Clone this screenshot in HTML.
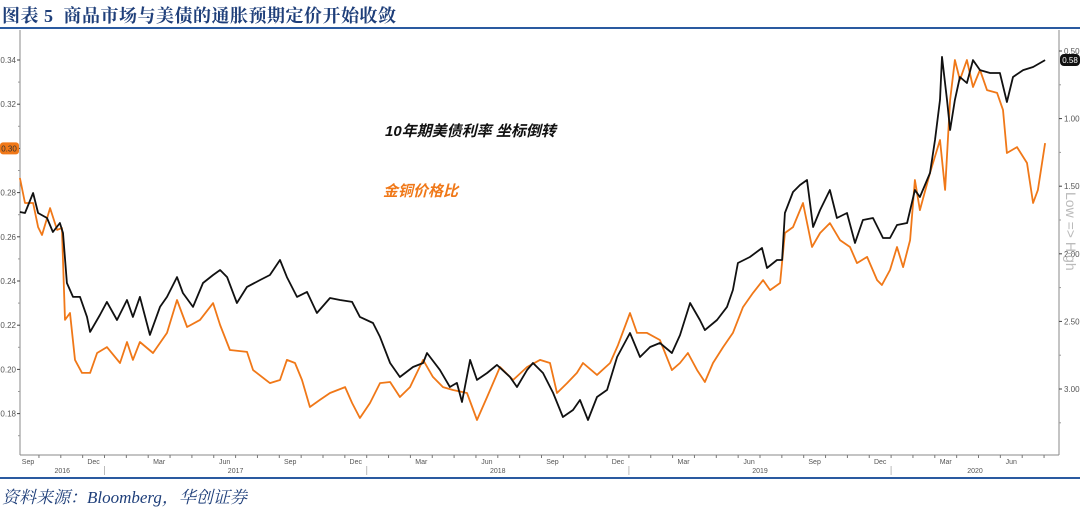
<!DOCTYPE html>
<html><head><meta charset="utf-8">
<style>
html,body{margin:0;padding:0;background:#fff;}
body{width:1080px;height:507px;overflow:hidden;position:relative;font-family:"Liberation Sans","Noto Sans CJK SC",sans-serif;}
#title{position:absolute;left:2px;top:2px;font-family:"Liberation Serif","Noto Serif CJK SC",serif;font-weight:bold;font-size:18px;color:#1f3f7a;letter-spacing:0.5px;white-space:nowrap;}
#src{position:absolute;left:2px;top:483px;font-family:"Liberation Serif","Noto Serif CJK SC",serif;font-style:italic;font-size:17px;color:#1f3f7a;white-space:nowrap;}
svg{position:absolute;left:0;top:0;}
</style></head><body>
<div id="title">图表 5&nbsp; 商品市场与美债的通胀预期定价开始收敛</div>
<div id="src">资料来源：Bloomberg，华创证券</div>
<svg id="chart" width="1080" height="507"></svg>
<script>
// months since 1 Sep 2016
const blackMonths=[0.13,0.36,0.73,0.96,1.37,1.64,1.96,2.10,2.28,2.56,2.88,3.20,3.34,3.79,4.11,4.57,5.03,5.30,5.62,6.08,6.54,6.86,7.32,7.59,8.05,8.51,8.97,9.29,9.61,10.06,10.52,11.12,11.57,12.03,12.35,12.81,13.27,13.72,14.32,14.78,15.33,15.69,16.29,16.61,17.07,17.52,18.12,18.58,18.76,19.35,19.81,20.13,20.36,20.73,21.05,21.51,21.96,22.56,22.88,23.34,23.61,24.07,24.53,24.98,25.44,25.76,26.13,26.54,27.00,27.46,28.05,28.51,28.97,29.42,29.97,30.34,30.80,31.25,31.48,32.03,32.49,32.76,32.99,33.54,34.09,34.32,34.78,35.01,35.14,35.51,35.83,36.15,36.43,36.75,37.20,37.52,37.98,38.35,38.71,39.17,39.63,39.95,40.27,40.73,41.09,41.32,41.78,42.01,42.24,42.33,42.56,42.70,42.92,43.15,43.47,43.75,44.07,44.53,44.98,45.30,45.58,46.04,46.50,47.05];
// US 10Y yield (%), plotted on inverted right axis
const yieldValues=[1.691,1.698,1.550,1.698,1.735,1.839,1.772,1.846,2.216,2.319,2.319,2.467,2.578,2.453,2.356,2.490,2.342,2.467,2.319,2.600,2.393,2.319,2.172,2.290,2.393,2.216,2.157,2.120,2.172,2.364,2.245,2.194,2.157,2.046,2.172,2.319,2.282,2.438,2.327,2.342,2.356,2.467,2.512,2.615,2.808,2.911,2.837,2.808,2.734,2.859,2.985,2.955,3.096,2.785,2.933,2.882,2.822,2.911,2.985,2.859,2.808,2.882,3.029,3.207,3.155,3.081,3.229,3.059,3.007,2.763,2.586,2.763,2.689,2.660,2.734,2.601,2.364,2.490,2.564,2.490,2.393,2.268,2.068,2.024,1.957,2.105,2.046,2.046,1.698,1.543,1.491,1.454,1.802,1.676,1.528,1.735,1.698,1.920,1.750,1.735,1.883,1.883,1.787,1.772,1.528,1.580,1.402,1.158,0.862,0.544,0.862,1.084,0.862,0.692,0.737,0.567,0.641,0.663,0.663,0.877,0.692,0.641,0.618,0.567];
const orangeMonths=[0.13,0.36,0.73,0.96,1.14,1.51,1.83,2.05,2.19,2.42,2.65,2.97,3.34,3.66,4.11,4.71,5.03,5.30,5.62,6.22,6.86,7.32,7.78,8.37,8.97,9.29,9.74,10.52,10.80,11.57,12.03,12.35,12.72,13.04,13.40,13.86,14.32,15.01,15.33,15.69,16.15,16.61,17.07,17.52,17.98,18.58,19.03,19.49,19.95,20.59,21.05,21.51,22.10,22.70,23.34,23.93,24.39,24.71,25.17,25.62,25.90,26.54,27.14,27.50,28.05,28.37,28.83,29.42,29.97,30.34,30.70,31.12,31.48,31.85,32.31,32.76,33.22,33.68,34.14,34.46,34.92,35.14,35.51,35.97,36.38,36.75,37.20,37.66,38.12,38.44,38.90,39.36,39.58,39.95,40.27,40.55,40.87,41.09,41.32,41.78,42.24,42.47,42.70,42.92,43.15,43.47,43.75,44.07,44.39,44.85,45.12,45.30,45.76,46.22,46.50,46.72,47.05];
// copper/gold ratio (left axis)
const ratioValues=[0.2866,0.2753,0.2753,0.2644,0.2608,0.2730,0.2631,0.2640,0.2224,0.2255,0.2043,0.1984,0.1984,0.2074,0.2101,0.2029,0.2124,0.2043,0.2124,0.2074,0.2165,0.2314,0.2192,0.2224,0.2300,0.2201,0.2088,0.2079,0.1997,0.1938,0.1952,0.2043,0.2029,0.1952,0.1830,0.1862,0.1893,0.1920,0.1848,0.1780,0.1848,0.1938,0.1943,0.1875,0.1920,0.2043,0.1966,0.1920,0.1907,0.1893,0.1771,0.1875,0.2011,0.1952,0.2011,0.2043,0.2029,0.1893,0.1938,0.1984,0.2029,0.1975,0.2029,0.2110,0.2255,0.2165,0.2165,0.2133,0.1997,0.2029,0.2074,0.1997,0.1943,0.2029,0.2101,0.2165,0.2282,0.2346,0.2404,0.2359,0.2391,0.2617,0.2644,0.2753,0.2554,0.2617,0.2662,0.2585,0.2554,0.2481,0.2509,0.2404,0.2382,0.2450,0.2554,0.2463,0.2585,0.2857,0.2721,0.2889,0.3038,0.2812,0.3219,0.3400,0.3310,0.3400,0.3278,0.3355,0.3264,0.3251,0.3174,0.2979,0.3006,0.2934,0.2753,0.2812,0.3024];
const leftTicks=[0.18,0.20,0.22,0.24,0.26,0.28,0.30,0.32,0.34];
const rightTicks=[0.5,1.0,1.5,2.0,2.5,3.0];
const monthLabels=["Sep","Dec","Mar","Jun","Sep","Dec","Mar","Jun","Sep","Dec","Mar","Jun","Sep","Dec","Mar","Jun"];
const yearLabels=["2016","2017","2018","2019","2020"];

const NS="http://www.w3.org/2000/svg";
const svg=document.getElementById('chart');
const L=20,R=1059,T=30,B=455;
const xS=m=>17.1+21.85*m;
const yL=v=>60+(0.34-v)*2210;
const yR=v=>51+(v-0.5)*135.2;
function mk(tag,attrs,parent){const e=document.createElementNS(NS,tag);for(const k in attrs)e.setAttribute(k,attrs[k]);(parent||svg).appendChild(e);return e;}

// frame lines
let e;
e=mk('line',{x1:0,y1:28,x2:1080,y2:28,stroke:'#2a5aa0','stroke-width':2});


e=mk('line',{x1:0,y1:478,x2:1080,y2:478,stroke:'#2a5aa0','stroke-width':2});


e=mk('line',{x1:L,y1:T,x2:L,y2:B,stroke:'#888','stroke-width':1});


e=mk('line',{x1:R,y1:T,x2:R,y2:B,stroke:'#888','stroke-width':1});


e=mk('line',{x1:L,y1:B,x2:R,y2:B,stroke:'#888','stroke-width':1});



// left ticks
leftTicks.forEach((v,i)=>{
  const y=yL(v);
  mk('line',{x1:L-3,y1:y,x2:L,y2:y,stroke:'#444'});
  if(i<leftTicks.length-1) mk('line',{x1:L-2,y1:yL(v+0.01),x2:L,y2:yL(v+0.01),stroke:'#999'});
  const t=mk('text',{x:L-4,y:y+3,'font-size':8,fill:'#555','text-anchor':'end'});
  t.textContent=v.toFixed(2).replace(/^0/,'0');
  
  
});
mk('line',{x1:L-2,y1:yL(0.17),x2:L,y2:yL(0.17),stroke:'#999'});
// right ticks
rightTicks.forEach((v,i)=>{
  const y=yR(v);
  mk('line',{x1:R,y1:y,x2:R+3,y2:y,stroke:'#444'});
  mk('line',{x1:R,y1:yR(v+0.25),x2:R+2,y2:yR(v+0.25),stroke:'#999'});
  const t=mk('text',{x:R+5,y:y+3,'font-size':8,fill:'#555'});
  t.textContent=v.toFixed(2);
  
  
});
// Low => High
e=mk('text',{x:0,y:0,'font-size':14,fill:'#bbb',transform:'translate(1066,192) rotate(90)'});
e.textContent='Low => High';



// x ticks
for(let m=0;m<=48;m++){
  const x=xS(m);
  if(x<L||x>R) continue;
  mk('line',{x1:x,y1:B,x2:x,y2:B+3,stroke:'#777'});
}
monthLabels.forEach((lab,i)=>{
  const t=mk('text',{x:xS(i*3+0.5),y:B+9,'font-size':7,fill:'#555','text-anchor':'middle'});
  t.textContent=lab;
  
  
});
const yearStart=[0,4,16,28,40,52];
yearLabels.forEach((lab,i)=>{
  const a=Math.max(xS(yearStart[i]),L), b=Math.min(xS(yearStart[i+1]),R);
  const t=mk('text',{x:(a+b)/2,y:B+18,'font-size':7,fill:'#555','text-anchor':'middle'});
  t.textContent=lab;
  
  
  if(i>0) mk('line',{x1:a,y1:B+11,x2:a,y2:B+20,stroke:'#bbb'});
});

// series
function path(ms,vs,ys){return ms.map((m,i)=>(i?'L':'M')+xS(m).toFixed(1)+','+ys(vs[i]).toFixed(1)).join('');}
e=mk('path',{d:path(orangeMonths,ratioValues,yL),fill:'none',stroke:'#f07818','stroke-width':1.8,'stroke-linejoin':'round'});


e=mk('path',{d:path(blackMonths,yieldValues,yR),fill:'none',stroke:'#111','stroke-width':1.8,'stroke-linejoin':'round'});



// value badges
const lastYield=yieldValues[yieldValues.length-1];
const g1=mk('g',{});


mk('rect',{x:R+1,y:yR(lastYield)-6,width:20,height:12,rx:4,fill:'#111'},g1);
let t=mk('text',{x:R+11,y:yR(lastYield)+3,'font-size':8,fill:'#fff','text-anchor':'middle'},g1);
t.textContent='0.58';
const g2=mk('g',{});


mk('rect',{x:0,y:yL(0.30)-6,width:19,height:12,rx:3,fill:'#f07818'},g2);
t=mk('text',{x:9,y:yL(0.30)+3,'font-size':8,fill:'#333','text-anchor':'middle'},g2);
t.textContent='0.30';

// annotations
e=mk('text',{x:385,y:136,'font-size':15,'font-weight':'bold','font-style':'italic',fill:'#111'});
e.textContent='10年期美债利率 坐标倒转';


e=mk('text',{x:383,y:196,'font-size':15,'font-weight':'bold','font-style':'italic',fill:'#f07818'});
e.textContent='金铜价格比';


</script>
</body></html>
